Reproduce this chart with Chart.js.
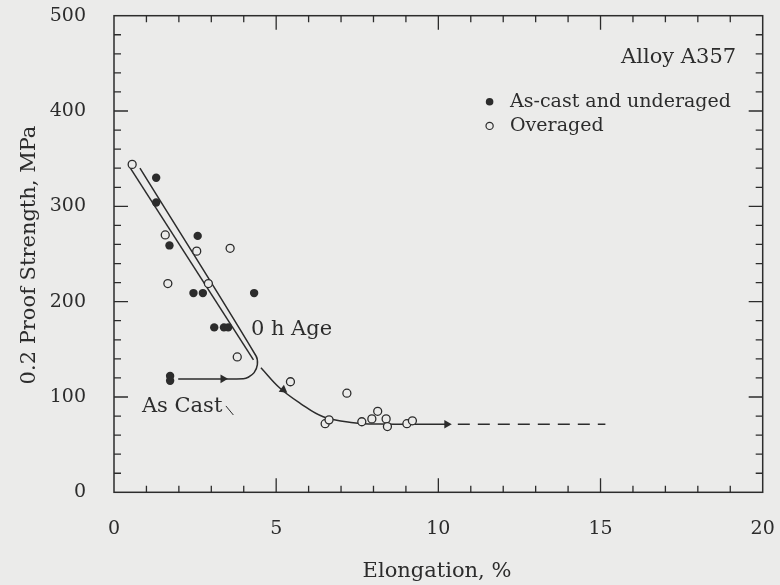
<!DOCTYPE html>
<html>
<head>
<meta charset="utf-8">
<script src="https://cdn.jsdelivr.net/npm/chart.js@4"></script>
<style>
  body { margin: 0; background: #ebebea; }
  canvas { display: block; }
</style>
</head>
<body>
<canvas id="mychart" width="780" height="585"></canvas>
<script>
// --- data (elongation %, 0.2 proof strength MPa) ---
var overagedX = [0.56, 1.58, 2.55, 3.58, 1.66, 2.91, 3.80, 5.44, 7.18, 6.51, 6.63, 7.64, 7.95, 8.13, 8.39, 8.43, 9.03, 9.20];
var overagedY = [344, 270, 253, 256, 219, 219, 142, 116, 104, 72, 76, 74, 77, 85, 77, 69, 72, 75];

var asCastX = [1.30, 1.30, 2.58, 1.71, 2.45, 2.74, 4.32, 3.09, 3.39, 3.52, 1.73, 1.73];
var asCastY = [330, 304, 269, 259, 209, 209, 209, 173, 173, 173, 122, 117];

// quality line (0 h age), two strands; second strand bends back to the as-cast point
var strandAX = [0.47, 4.30];
var strandAY = [342, 139];
var strandBX = [0.80, 4.38, 4.42, 4.32, 4.14, 3.99, 1.98];
var strandBY = [340, 143, 134, 125.5, 120.7, 119.2, 118.9];

// ageing path
var ageX = [4.53, 5.12, 5.74, 6.45, 7.38, 8.2, 10.26];
var ageY = [130.7, 109.1, 93.4, 79.3, 73.0, 71.6, 71.4];
var dashX = [10.6, 15.15];
var dashY = [71.4, 71.4];

// arrow heads: position and direction (degrees, 90 = pointing right)
var arrowX = [3.36, 5.22, 10.26];
var arrowY = [119, 107.5, 71.4];
var arrowDir = [90, 127, 90];

var xTicks = [0, 5, 10, 15, 20];
var yTicks = [0, 100, 200, 300, 400, 500];

var ink = '#2c2c2c';
var paper = '#ebebea';
var serif = '"DejaVu Serif", serif';

function pts(xs, ys) {
  var out = [];
  for (var i = 0; i < xs.length; i++) out.push({x: xs[i], y: ys[i]});
  return out;
}

var frame = {
  id: 'frame',
  afterDraw: function(chart) {
    var ctx = chart.ctx;
    var a = chart.chartArea;
    var xs = chart.scales.x, ys = chart.scales.y;
    ctx.save();
    ctx.strokeStyle = ink;
    ctx.lineWidth = 1.5;
    ctx.strokeRect(a.left, a.top, a.right - a.left, a.bottom - a.top);
    // inward ticks on all sides, longer at labelled values
    ctx.lineWidth = 1.3;
    ctx.beginPath();
    for (var v = 1; v < 20; v++) {
      var px = xs.getPixelForValue(v);
      var len = (v % 5 === 0) ? 14 : 6.5;
      ctx.moveTo(px, a.bottom); ctx.lineTo(px, a.bottom - len);
      ctx.moveTo(px, a.top); ctx.lineTo(px, a.top + len);
    }
    for (var w = 20; w < 500; w += 20) {
      var py = ys.getPixelForValue(w);
      var ln = (w % 100 === 0) ? 14 : 7;
      ctx.moveTo(a.left, py); ctx.lineTo(a.left + ln, py);
      ctx.moveTo(a.right, py); ctx.lineTo(a.right - ln, py);
    }
    ctx.stroke();

    ctx.fillStyle = ink;
    ctx.textBaseline = 'middle';
    ctx.font = '21px ' + serif;
    ctx.textAlign = 'right';
    ctx.fillText('Alloy A357', xs.getPixelForValue(19.18), ys.getPixelForValue(455.7));
    ctx.textAlign = 'left';
    ctx.fillText('0 h Age', xs.getPixelForValue(4.22), ys.getPixelForValue(170.3));
    ctx.fillText('As Cast', xs.getPixelForValue(0.86), ys.getPixelForValue(89.5));
    ctx.font = '19px ' + serif;
    ctx.fillText('As-cast and underaged', xs.getPixelForValue(12.21), ys.getPixelForValue(409.8));
    ctx.fillText('Overaged', xs.getPixelForValue(12.21), ys.getPixelForValue(384.4));

    // legend glyphs
    ctx.beginPath();
    ctx.arc(xs.getPixelForValue(11.58), ys.getPixelForValue(409.8), 3.8, 0, Math.PI * 2);
    ctx.fill();
    ctx.beginPath();
    ctx.lineWidth = 1.2;
    ctx.arc(xs.getPixelForValue(11.58), ys.getPixelForValue(384.4), 3.6, 0, Math.PI * 2);
    ctx.stroke();

    // axis titles
    ctx.font = '21px ' + serif;
    ctx.textAlign = 'center';
    ctx.fillText('Elongation, %', 437, 572);
    ctx.translate(30, 255);
    ctx.rotate(-Math.PI / 2);
    ctx.fillText('0.2 Proof Strength, MPa', 0, 0);
    ctx.restore();
  }
};

var ctx = document.getElementById('mychart');
var myChart = new Chart(ctx, {
  type: 'scatter',
  data: {
    datasets: [
      {
        label: 'Overaged',
        data: pts(overagedX, overagedY),
        pointStyle: 'circle',
        pointRadius: 4,
        pointBorderWidth: 1.3,
        pointBackgroundColor: paper,
        pointBorderColor: ink
      },
      {
        label: 'As-cast and underaged',
        data: pts(asCastX, asCastY),
        pointStyle: 'circle',
        pointRadius: 4.2,
        pointBorderWidth: 0,
        pointBackgroundColor: ink,
        pointBorderColor: ink
      },
      {
        label: 'arrows',
        data: pts(arrowX, arrowY),
        pointStyle: 'triangle',
        pointRadius: 5,
        pointRotation: arrowDir,
        pointBorderWidth: 0,
        pointBackgroundColor: ink
      },
      {
        label: 'strand A',
        data: pts(strandAX, strandAY),
        showLine: true, pointRadius: 0, borderColor: ink, borderWidth: 1.5
      },
      {
        label: 'strand B',
        data: pts(strandBX, strandBY),
        showLine: true, pointRadius: 0, borderColor: ink, borderWidth: 1.5, tension: 0.35
      },
      {
        label: 'ageing',
        data: pts(ageX, ageY),
        showLine: true, pointRadius: 0, borderColor: ink, borderWidth: 1.5, tension: 0.4
      },
      {
        label: 'dashed',
        data: pts(dashX, dashY),
        showLine: true, pointRadius: 0, borderColor: ink, borderWidth: 1.5, borderDash: [12, 8]
      },
      {
        label: 'leader',
        data: pts([3.45, 3.68], [90.6, 81.1]),
        showLine: true, pointRadius: 0, borderColor: ink, borderWidth: 1
      }
    ]
  },
  options: {
    responsive: false,
    animation: false,
    devicePixelRatio: 1,
    layout: { padding: { left: 0, top: 15.7, right: 17.3, bottom: 0 } },
    plugins: { legend: { display: false }, tooltip: { enabled: false } },
    scales: {
      x: {
        type: 'linear', min: 0, max: 20,
        grid: { display: false, drawTicks: false },
        border: { display: false },
        ticks: {
          stepSize: 1, autoSkip: false, maxRotation: 0, padding: 25,
          color: ink, font: { family: serif, size: 19 },
          callback: function(v) { return xTicks.indexOf(v) >= 0 ? String(v) : ''; }
        },
        afterFit: function(s) {
          s.height = 92.7;
          s.paddingLeft = 0; s.paddingRight = 0;
        }
      },
      y: {
        type: 'linear', min: 0, max: 500,
        grid: { display: false, drawTicks: false },
        border: { display: false },
        ticks: {
          stepSize: 20, autoSkip: false, padding: 28,
          color: ink, font: { family: serif, size: 19 },
          callback: function(v) { return yTicks.indexOf(v) >= 0 ? String(v) : ''; }
        },
        afterFit: function(s) {
          s.width = 114;
          s.paddingTop = 0; s.paddingBottom = 0;
        }
      }
    }
  },
  plugins: [frame]
});
</script>
</body>
</html>
